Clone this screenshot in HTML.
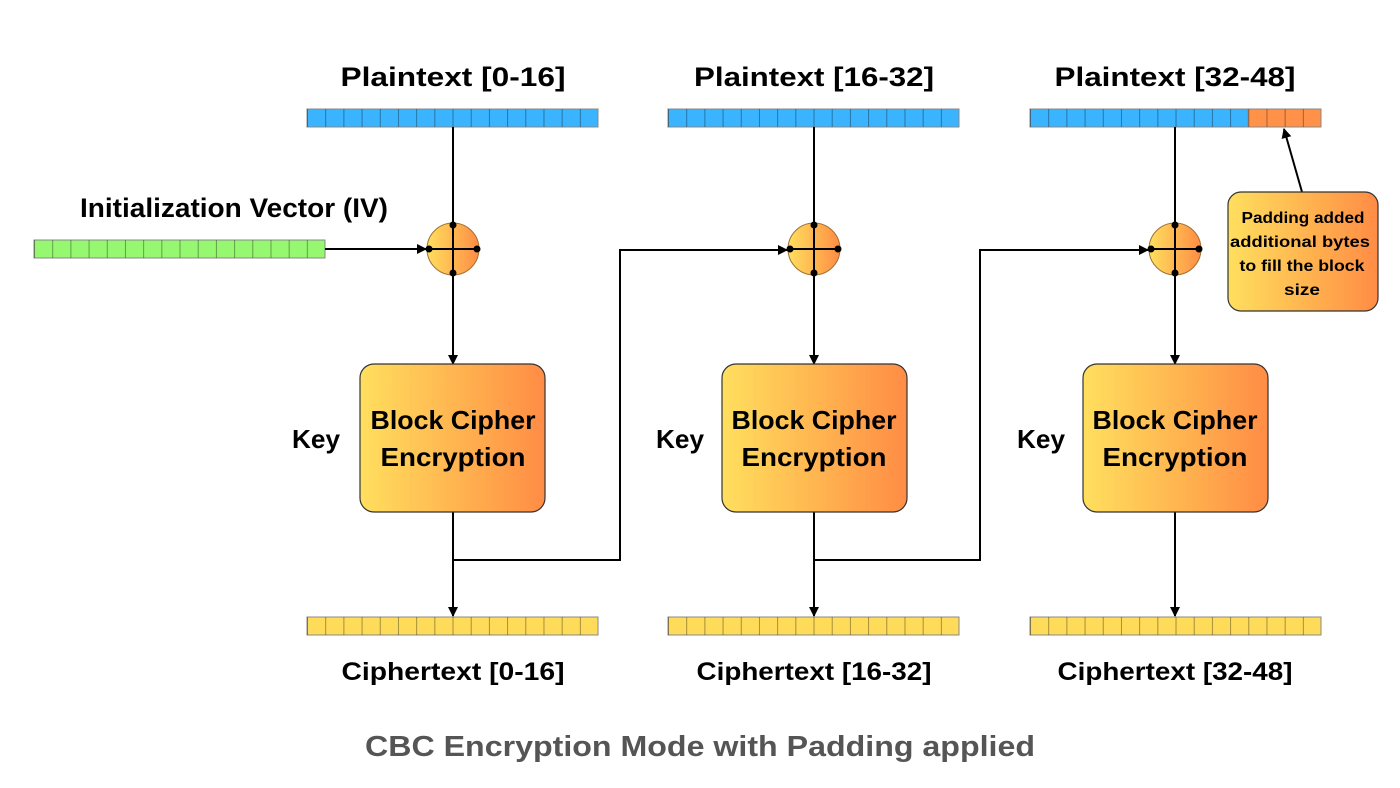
<!DOCTYPE html>
<html><head><meta charset="utf-8"><style>
html,body{margin:0;padding:0;background:#fff;}
svg{display:block;}
text{font-family:"Liberation Sans",sans-serif;font-weight:bold;}
</style></head><body>
<svg width="1400" height="788" viewBox="0 0 1400 788" xmlns="http://www.w3.org/2000/svg">
<defs>
<linearGradient id="g" x1="0" x2="1" y1="0" y2="0"><stop offset="0" stop-color="#ffdf5e"/><stop offset="0.55" stop-color="#ffb24f"/><stop offset="1" stop-color="#ff8c45"/></linearGradient>
<pattern id="cells" patternUnits="userSpaceOnUse" width="18.19" height="40" x="0" y="0"><rect x="0" y="0" width="1" height="40" fill="rgba(0,0,0,0.35)"/></pattern>
<marker id="a" markerWidth="10" markerHeight="10" refX="9" refY="5" orient="auto" markerUnits="userSpaceOnUse"><path d="M0,0 L10,5 L0,10 z" fill="#000"/></marker>
</defs>
<g font-size="27" text-anchor="middle" fill="#000" lengthAdjust="spacingAndGlyphs">
<text x="453" y="86" textLength="225" lengthAdjust="spacingAndGlyphs">Plaintext [0-16]</text>
<text x="814" y="86" textLength="240" lengthAdjust="spacingAndGlyphs">Plaintext [16-32]</text>
<text x="1175" y="86" textLength="241" lengthAdjust="spacingAndGlyphs">Plaintext [32-48]</text>
<text x="234" y="217" textLength="308" lengthAdjust="spacingAndGlyphs">Initialization Vector (IV)</text>
</g>
<g stroke="#888" stroke-width="1">
<g transform="translate(307,109)"><rect width="291" height="18" fill="#3bb4ff"/><rect width="291" height="18" fill="url(#cells)" stroke="none"/></g>
<g transform="translate(668,109)"><rect width="291" height="18" fill="#3bb4ff"/><rect width="291" height="18" fill="url(#cells)" stroke="none"/></g>
<g transform="translate(1030,109)"><rect width="218" height="18" fill="#3bb4ff"/><rect x="218" width="73" height="18" fill="#ff9248"/><rect width="291" height="18" fill="url(#cells)" stroke="none"/></g>
<g transform="translate(34,240)"><rect width="291" height="18" fill="#95f870"/><rect width="291" height="18" fill="url(#cells)" stroke="none"/></g>
<g transform="translate(307,617)"><rect width="291" height="18" fill="#fedc5a"/><rect width="291" height="18" fill="url(#cells)" stroke="none"/></g>
<g transform="translate(668,617)"><rect width="291" height="18" fill="#fedc5a"/><rect width="291" height="18" fill="url(#cells)" stroke="none"/></g>
<g transform="translate(1030,617)"><rect width="291" height="18" fill="#fedc5a"/><rect width="291" height="18" fill="url(#cells)" stroke="none"/></g>
</g>
<g stroke="#000" stroke-width="2" fill="none">
<line x1="453" y1="127" x2="453" y2="223"/>
<line x1="814" y1="127" x2="814" y2="223"/>
<line x1="1175" y1="127" x2="1175" y2="223"/>
<line x1="325" y1="249" x2="426" y2="249" marker-end="url(#a)"/>
<line x1="453" y1="275" x2="453" y2="364" marker-end="url(#a)"/>
<line x1="814" y1="275" x2="814" y2="364" marker-end="url(#a)"/>
<line x1="1175" y1="275" x2="1175" y2="364" marker-end="url(#a)"/>
<line x1="453" y1="512" x2="453" y2="616" marker-end="url(#a)"/>
<line x1="814" y1="512" x2="814" y2="616" marker-end="url(#a)"/>
<line x1="1175" y1="512" x2="1175" y2="616" marker-end="url(#a)"/>
<polyline points="453,560 620,560 620,250 787,250" marker-end="url(#a)"/>
<polyline points="814,560 980,560 980,250 1148,250" marker-end="url(#a)"/>
<line x1="1302" y1="192" x2="1284" y2="129" marker-end="url(#a)"/>
</g>
<g>
<g id="x1" transform="translate(453,249)">
<circle r="26" fill="url(#g)" stroke="#a07030" stroke-width="1"/>
<line x1="-24" y1="0" x2="24" y2="0" stroke="#000" stroke-width="2"/>
<line x1="0" y1="-24" x2="0" y2="24" stroke="#000" stroke-width="2"/>
<circle cx="-24" r="3.5"/><circle cx="24" r="3.5"/><circle cy="-24" r="3.5"/><circle cy="24" r="3.5"/>
</g>
<use href="#x1" x="361"/>
<use href="#x1" x="722"/>
</g>
<g stroke="#333" stroke-width="1.2" fill="url(#g)">
<rect x="360" y="364" width="185" height="148" rx="14"/>
<rect x="722" y="364" width="185" height="148" rx="14"/>
<rect x="1083" y="364" width="185" height="148" rx="14"/>
<rect x="1228" y="192" width="150" height="119" rx="13"/>
</g>
<g font-size="26" text-anchor="middle" fill="#000">
<text x="453" y="429" textLength="165" lengthAdjust="spacingAndGlyphs">Block Cipher</text><text x="453" y="466" textLength="145" lengthAdjust="spacingAndGlyphs">Encryption</text>
<text x="814" y="429" textLength="165" lengthAdjust="spacingAndGlyphs">Block Cipher</text><text x="814" y="466" textLength="145" lengthAdjust="spacingAndGlyphs">Encryption</text>
<text x="1175" y="429" textLength="165" lengthAdjust="spacingAndGlyphs">Block Cipher</text><text x="1175" y="466" textLength="145" lengthAdjust="spacingAndGlyphs">Encryption</text>
<text x="316" y="448" textLength="48" lengthAdjust="spacingAndGlyphs">Key</text>
<text x="680" y="448" textLength="48" lengthAdjust="spacingAndGlyphs">Key</text>
<text x="1041" y="448" textLength="48" lengthAdjust="spacingAndGlyphs">Key</text>
</g>
<g font-size="15.5" text-anchor="middle" fill="#000">
<text x="1303" y="223" textLength="123" lengthAdjust="spacingAndGlyphs">Padding added</text>
<text x="1300" y="247" textLength="140" lengthAdjust="spacingAndGlyphs">additional bytes</text>
<text x="1302" y="271" textLength="125" lengthAdjust="spacingAndGlyphs">to fill the block</text>
<text x="1302" y="295" textLength="36" lengthAdjust="spacingAndGlyphs">size</text>
</g>
<g font-size="25" text-anchor="middle" fill="#000">
<text x="453" y="680" textLength="223" lengthAdjust="spacingAndGlyphs">Ciphertext [0-16]</text>
<text x="814" y="680" textLength="235" lengthAdjust="spacingAndGlyphs">Ciphertext [16-32]</text>
<text x="1175" y="680" textLength="235" lengthAdjust="spacingAndGlyphs">Ciphertext [32-48]</text>
</g>
<text x="700" y="756" font-size="29" text-anchor="middle" fill="#555" textLength="670" lengthAdjust="spacingAndGlyphs">CBC Encryption Mode with Padding applied</text>
</svg>
</body></html>
